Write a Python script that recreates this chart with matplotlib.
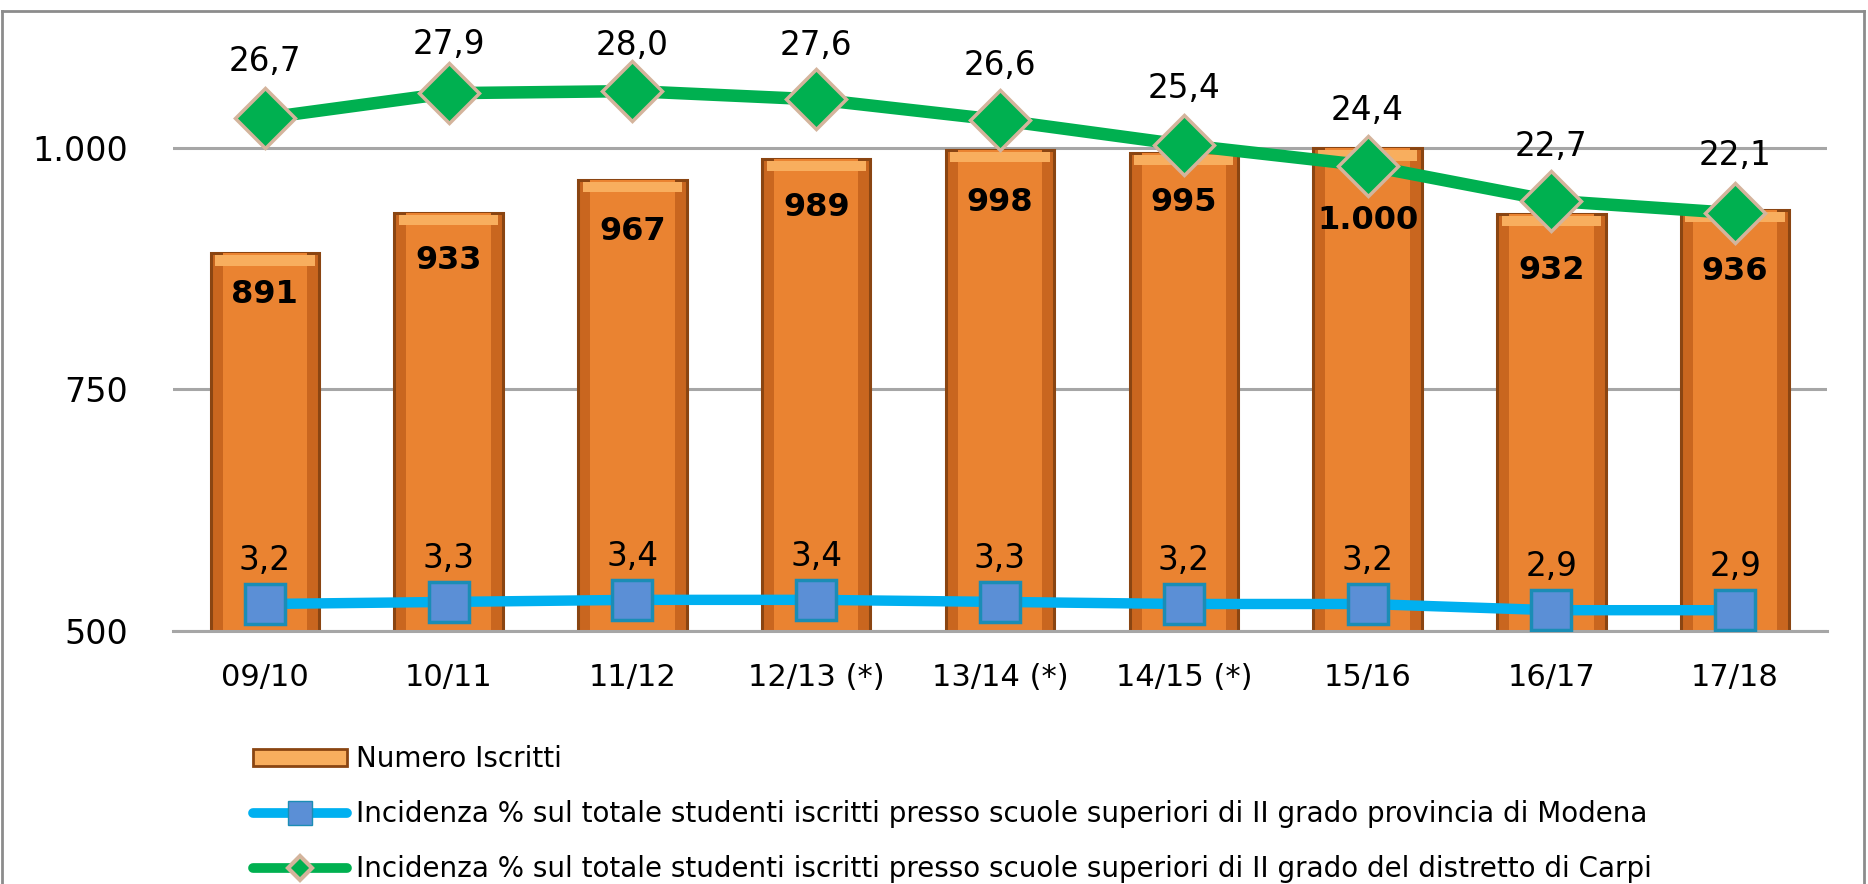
import matplotlib.pyplot as plt
import numpy as np
from matplotlib.lines import Line2D
from matplotlib.patches import Rectangle

# values
anni = ["09/10", "10/11", "11/12", "12/13 (*)", "13/14 (*)", "14/15 (*)", "15/16", "16/17", "17/18"]
iscritti = [891, 933, 967, 989, 998, 995, 1000, 932, 936]
perc_modena = [3.2, 3.3, 3.4, 3.4, 3.3, 3.2, 3.2, 2.9, 2.9]
perc_carpi = [26.7, 27.9, 28.0, 27.6, 26.6, 25.4, 24.4, 22.7, 22.1]

lbl_bar = "Numero Iscritti"
lbl_modena = ("Incidenza % sul totale studenti iscritti presso scuole superiori "
              "di II grado provincia di Modena")
lbl_carpi = ("Incidenza % sul totale studenti iscritti presso scuole superiori "
             "di II grado del distretto di Carpi")

# label placement tweaks (pixels from the mark to the middle of the digits)
bar_label_drop = [39, 45, 49, 46, 50, 47, 70, 54, 59]
carpi_label_rise = [59, 51, 48, 56, 57, 59, 58, 57, 60]
modena_label_rise = 46

W, H = 1868, 884
PX = 72 / 100  # points per pixel at dpi 100

ORANGE = "#EA8331"
ORANGE_DARK = "#C9661F"
ORANGE_EDGE = "#8A4512"
ORANGE_TOP = "#F8AE5E"
BLUE_LINE = "#00B0F0"
BLUE_FACE = "#5B8FD6"
BLUE_EDGE = "#1B8DB5"
GREEN = "#00B050"
GREEN_EDGE = "#D4B49C"
GRID = "#A6A6A6"


def it_int(v):
    return f"{v:,}".replace(",", ".")


def it_dec(v):
    return f"{v:.1f}".replace(".", ",")


fig = plt.figure(figsize=(W / 100, H / 100), dpi=100)
ax = fig.add_axes([173 / W, 1 - 631 / H, (1827 - 173) / W, (631 - 51.4) / H])
ax2 = ax.twinx()

x = np.arange(len(anni))

# bars, with a lighter core and a bevel band on top
ax.bar(x, iscritti, width=0.59, color=ORANGE_DARK, edgecolor=ORANGE_EDGE,
       linewidth=2.2, zorder=2)
ax.bar(x, np.array(iscritti) - 500, width=0.46, bottom=500, color=ORANGE,
       linewidth=0, zorder=2.05)
ax.bar(x, [11] * len(x), width=0.54, bottom=np.array(iscritti) - 13,
       color=ORANGE_TOP, linewidth=0, zorder=2.1)
for xi, v, d in zip(x, iscritti, bar_label_drop):
    ax.annotate(it_int(v), (xi, v), xytext=(0, -(d + 11) * PX), textcoords="offset points",
                ha="center", va="baseline", fontsize=23, fontweight="bold",
                family="DejaVu Sans", zorder=5)

ax.set_ylim(500, 1100)
ax.set_xlim(-0.5, 8.5)
ax.set_yticks([500, 750, 1000])
ax.set_yticklabels([it_int(v) for v in [500, 750, 1000]])
ax.yaxis.grid(True, color=GRID, linewidth=2.2, zorder=0)
ax.set_axisbelow(True)
for s in ["top", "right", "left"]:
    ax.spines[s].set_visible(False)
ax.spines["bottom"].set_color(GRID)
ax.spines["bottom"].set_linewidth(2.2)
ax.tick_params(axis="y", length=0, pad=45 * PX, labelsize=24)
ax.tick_params(axis="x", length=0, pad=32 * PX, labelsize=22)
ax.set_xticks(x)
ax.set_xticklabels(anni)

# lines on secondary axis
ax2.plot(x, perc_modena, color=BLUE_LINE, linewidth=7.5, marker="s", markersize=29,
         markerfacecolor=BLUE_FACE, markeredgecolor=BLUE_EDGE, markeredgewidth=2.5,
         solid_capstyle="round", zorder=3)
ax2.plot(x, perc_carpi, color=GREEN, linewidth=9, marker="D", markersize=31,
         markerfacecolor=GREEN, markeredgecolor=GREEN_EDGE, markeredgewidth=2.5,
         solid_capstyle="round", zorder=3)
for xi, v in zip(x, perc_modena):
    ax2.annotate(it_dec(v), (xi, v), xytext=(0, (modena_label_rise - 12) * PX),
                 textcoords="offset points", ha="center", va="baseline",
                 fontsize=23.5, family="DejaVu Sans")
for xi, v, r in zip(x, perc_carpi, carpi_label_rise):
    ax2.annotate(it_dec(v), (xi, v), xytext=(0, (r - 12) * PX),
                 textcoords="offset points", ha="center", va="baseline",
                 fontsize=23.5, family="DejaVu Sans")
ax2.set_ylim(1.894, 29.92)
ax2.set_yticks([])
for s in ax2.spines.values():
    s.set_visible(False)

# legend below the plot
handles = [
    Rectangle((0, 0), 1, 1, facecolor=ORANGE_TOP, edgecolor=ORANGE_EDGE, linewidth=2),
    Line2D([], [], color=BLUE_LINE, linewidth=7, marker="s", markersize=17,
           markerfacecolor=BLUE_FACE, markeredgecolor=BLUE_EDGE, solid_capstyle="round"),
    Line2D([], [], color=GREEN, linewidth=7, marker="D", markersize=12,
           markerfacecolor=GREEN, markeredgecolor=GREEN_EDGE, markeredgewidth=3,
           solid_capstyle="round"),
]
fig.legend(handles, [lbl_bar, lbl_modena, lbl_carpi], loc="upper left",
           bbox_to_anchor=(253 / W, 1 - 745 / H), frameon=False, borderpad=0,
           borderaxespad=0, handlelength=3.4, handleheight=0.55, handletextpad=0.3,
           labelspacing=0.98, prop={"family": "DejaVu Sans", "size": 20})

# outer chart border
for xs, ys in [((2, 1864), (11, 11)), ((2, 2), (11, H + 5)), ((1864, 1864), (11, H + 5))]:
    fig.add_artist(Line2D([v / W for v in xs], [1 - v / H for v in ys],
                          color="#8C8C8C", linewidth=2))

fig.savefig("out.png", dpi=100)
